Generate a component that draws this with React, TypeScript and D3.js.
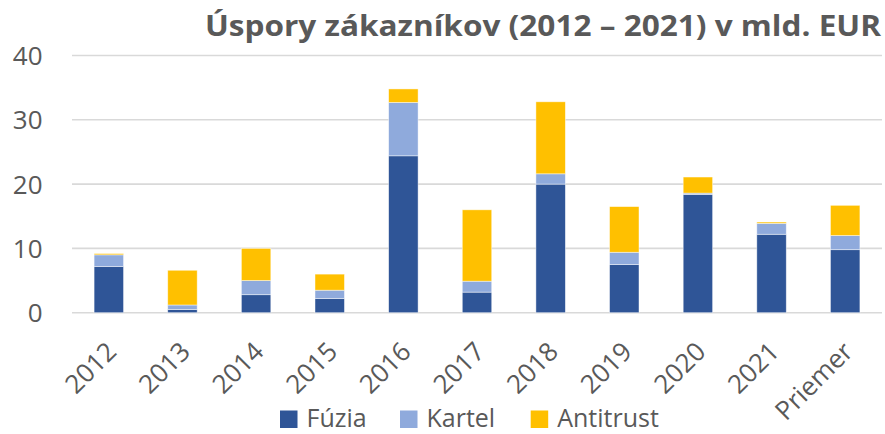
import React from "react";
import * as d3 from "d3";

const categories = ["2012", "2013", "2014", "2015", "2016", "2017", "2018", "2019", "2020", "2021", "Priemer"];
const fuzia = [7.2, 0.5, 2.8, 2.2, 24.4, 3.2, 20.0, 7.5, 18.4, 12.2, 9.8];
const kartel = [1.8, 0.7, 2.2, 1.3, 8.3, 1.7, 1.6, 1.9, 0.2, 1.7, 2.2];
const antitrust = [0.2, 5.4, 5.0, 2.5, 2.1, 11.1, 11.2, 7.1, 2.5, 0.2, 4.7];
const seriesNames = ["Fúzia", "Kartel", "Antitrust"];
const seriesColors = ["#2F5597", "#8FAADC", "#FFC000"];
const yTicks = [0, 10, 20, 30, 40];
const title = "Úspory zákazníkov (2012 – 2021) v mld. EUR";

const W = 885;
const H = 434;
const FONT = "'Open Sans', sans-serif";
const TXT = "#595959";

export default function App() {
  const x = d3.scaleBand<string>().domain(categories).range([72, 882]).paddingInner(0.6).paddingOuter(0.3);
  const y = d3.scaleLinear().domain([0, 40]).range([312.7, 55.5]);

  const rows = categories.map((c, i) => ({ cat: c, f: fuzia[i], k: kartel[i], a: antitrust[i] }));
  const stack = d3.stack<any>().keys(["f", "k", "a"]);
  const layers = stack(rows);

  const legendX = [280, 400, 530.7];

  return (
    <svg width={W} height={H} style={{ position: "absolute", left: 0, top: 0, background: "#fff" }}>
      <rect x={0} y={0} width={W} height={H} fill="#fff" />
      <text
        x={881}
        y={36}
        textAnchor="end"
        fontFamily={FONT}
        fontWeight={700}
        fontSize={28}
        fill={TXT}
        textLength={676}
        lengthAdjust="spacingAndGlyphs"
      >
        {title}
      </text>
      {yTicks.map((t) => (
        <g key={t}>
          <line x1={72} x2={882} y1={y(t)} y2={y(t)} stroke="#D9D9D9" strokeWidth={1.6} />
          <text x={42.5} y={y(t) + 9.5} textAnchor="end" fontFamily={FONT} fontSize={26} fill={TXT}>
            {t}
          </text>
        </g>
      ))}
      {layers.map((layer, li) => (
        <g key={li} fill={seriesColors[li]}>
          {layer.map((d, i) => (
            <rect
              key={i}
              x={x(categories[i])!}
              width={x.bandwidth()}
              y={y(d[1])}
              height={Math.max(0, y(d[0]) - y(d[1]))}
              stroke="#fff"
              strokeWidth={0.75}
              strokeOpacity={0.6}
            />
          ))}
        </g>
      ))}
      {categories.map((c) => {
        const cx = x(c)! + x.bandwidth() / 2;
        return (
          <text
            key={c}
            transform={`translate(${cx - 4},${340}) rotate(-45)`}
            textAnchor="end"
            dy="0.72em"
            fontFamily={FONT}
            fontSize={26}
            fill={TXT}
          >
            {c}
          </text>
        );
      })}
      {seriesNames.map((n, i) => (
        <g key={n}>
          <rect x={legendX[i]} y={410.5} width={17.5} height={17.5} fill={seriesColors[i]} />
          <text x={legendX[i] + 26.5} y={427} fontFamily={FONT} fontSize={25} fill={TXT}>
            {n}
          </text>
        </g>
      ))}
    </svg>
  );
}
